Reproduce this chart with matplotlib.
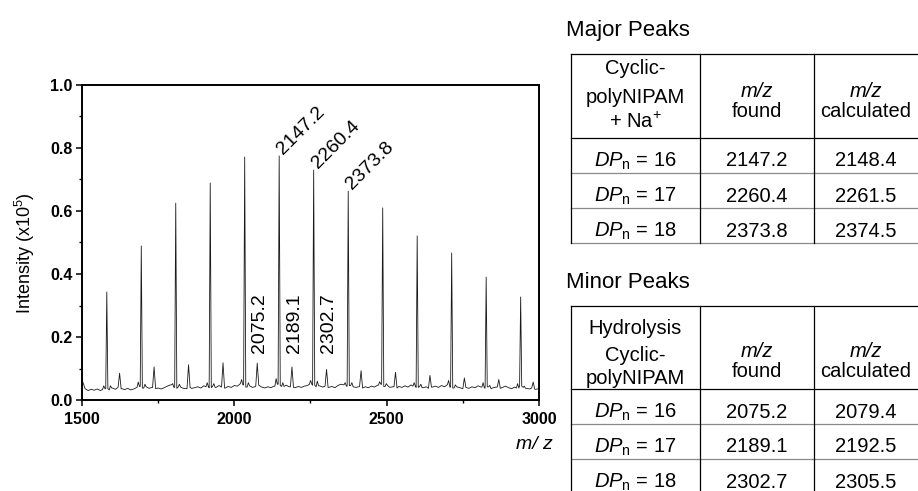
import matplotlib
matplotlib.use("Agg")
import matplotlib.pyplot as plt
import numpy as np

plt.rcParams["font.family"] = ["Liberation Sans", "DejaVu Sans"]
plt.rcParams["mathtext.fontset"] = "custom"
plt.rcParams["mathtext.rm"] = "Liberation Sans"
plt.rcParams["mathtext.it"] = "Liberation Sans:italic"
plt.rcParams["mathtext.bf"] = "Liberation Sans:bold"

# ---- spectrum, values ----
major_mz = [1581.4, 1694.6, 1807.7, 1920.9, 2034.0, 2147.2, 2260.4,
            2373.8, 2487.0, 2600.2, 2713.4, 2826.6, 2939.8]
major_int = [0.343, 0.489, 0.625, 0.689, 0.771, 0.775, 0.730,
             0.663, 0.610, 0.521, 0.467, 0.390, 0.327]
minor_mz = [1623.4, 1736.6, 1849.7, 1962.9, 2075.2, 2189.1, 2302.7,
            2416.0, 2529.0, 2642.0, 2755.0, 2868.0, 2981.0]
minor_int = [0.085, 0.105, 0.112, 0.118, 0.117, 0.105, 0.097,
             0.093, 0.088, 0.078, 0.070, 0.065, 0.057]
# small shoulders just below / above each major peak
pre_int = [0.045, 0.057, 0.052, 0.055, 0.065, 0.068, 0.062,
           0.055, 0.058, 0.055, 0.062, 0.055, 0.052]
post_int = [0.045, 0.050, 0.050, 0.052, 0.055, 0.055, 0.060,
            0.055, 0.052, 0.050, 0.048, 0.046, 0.044]

base_mz = np.arange(1500, 3001, 10)
base_int = [
    0.065, 0.036, 0.030, 0.034, 0.031, 0.035, 0.030, 0.033, 0.036, 0.032,
    0.038, 0.034, 0.040, 0.036, 0.033, 0.037, 0.032, 0.035, 0.040, 0.043,
    0.038, 0.042, 0.037, 0.040, 0.036, 0.038, 0.035, 0.039, 0.044, 0.048,
    0.040, 0.037, 0.041, 0.038, 0.036, 0.040, 0.037, 0.039, 0.042, 0.038,
    0.045, 0.042, 0.039, 0.044, 0.040, 0.046, 0.041, 0.038, 0.043, 0.040,
    0.046, 0.044, 0.052, 0.048, 0.041, 0.045, 0.040, 0.043, 0.047, 0.041,
    0.038, 0.042, 0.039, 0.044, 0.050, 0.046, 0.043, 0.047, 0.042, 0.040,
    0.039, 0.043, 0.040, 0.044, 0.046, 0.050, 0.047, 0.042, 0.045, 0.041,
    0.044, 0.040, 0.043, 0.039, 0.046, 0.050, 0.048, 0.044, 0.046, 0.042,
    0.040, 0.043, 0.038, 0.042, 0.039, 0.044, 0.041, 0.047, 0.050, 0.043,
    0.046, 0.040, 0.042, 0.038, 0.043, 0.040, 0.045, 0.041, 0.048, 0.044,
    0.040, 0.043, 0.039, 0.042, 0.037, 0.041, 0.044, 0.040, 0.046, 0.042,
    0.049, 0.041, 0.038, 0.042, 0.039, 0.036, 0.040, 0.037, 0.042, 0.039,
    0.045, 0.041, 0.038, 0.042, 0.036, 0.039, 0.041, 0.037, 0.040, 0.044,
    0.039, 0.036, 0.041, 0.038, 0.044, 0.040, 0.037, 0.035, 0.038, 0.034,
    0.036,
]

# ---- tables ----
dp_values = [16, 17, 18]
major_found = ["2147.2", "2260.4", "2373.8"]
major_calc = ["2148.4", "2261.5", "2374.5"]
minor_found = ["2075.2", "2189.1", "2302.7"]
minor_calc = ["2079.4", "2192.5", "2305.5"]
major_head = ["Cyclic-", "polyNIPAM", "+ Na$^{+}$"]
minor_head = ["Hydrolysis", "Cyclic-", "polyNIPAM"]


def build_trace():
    bx = np.asarray(base_mz, float)
    by = np.asarray(base_int, float)
    peaks = [(m, h, 3.5) for m, h in zip(major_mz, major_int)]
    peaks += [(m, h, 5.0) for m, h in zip(minor_mz, minor_int)]
    peaks += [(m - 10, h, 4.0) for m, h in zip(major_mz, pre_int)]
    peaks += [(m + 12, h, 4.0) for m, h in zip(major_mz, post_int)]
    keep = np.ones(len(bx), bool)
    pts = []
    for m, h, w in peaks:
        keep &= np.abs(bx - m) > w
        for xf in (m - w, m + w):
            pts.append((xf, by[np.abs(bx - xf).argmin()]))
        pts.append((m, h))
    pts += list(zip(bx[keep], by[keep]))
    pts.sort()
    return np.array(pts).T


W, H = 918, 491
fig = plt.figure(figsize=(W / 100, H / 100), dpi=100)
ax = fig.add_axes([82 / W, 91 / H, 457 / W, 315 / H])

x, y = build_trace()
ax.plot(x, y, color="#1a1a1a", lw=0.6)
ax.set_xlim(1500, 3000)
ax.set_ylim(0, 1.0)
ax.set_xticks([1500, 2000, 2500, 3000])
ax.set_xticks([1750, 2250, 2750], minor=True)
ax.set_yticks([0.0, 0.2, 0.4, 0.6, 0.8, 1.0])
ax.set_yticks(np.arange(0.1, 1.0, 0.2), minor=True)
ax.set_yticklabels(["0.0", "0.2", "0.4", "0.6", "0.8", "1.0"])
for s in ax.spines.values():
    s.set_linewidth(1.4)
ax.tick_params(which="major", direction="out", length=4, width=1.1)
ax.tick_params(which="minor", direction="out", length=2.5, width=1.0)
ax.tick_params(axis="x", pad=5)
ax.tick_params(axis="y", pad=3)
for lab in ax.get_xticklabels() + ax.get_yticklabels():
    lab.set_fontweight("bold")
    lab.set_fontsize(11.5)

# peak labels
for s in major_found:
    m = float(s)
    h = major_int[int(np.argmin(np.abs(np.array(major_mz) - m)))]
    ax.annotate(s, (m, h), xytext=(3, 0.5), textcoords="offset points",
                rotation=45, rotation_mode="anchor", ha="left",
                va="baseline", fontsize=14)
for s in minor_found:
    ax.text(float(s) + 8, 0.15, s, rotation=90, ha="center", va="bottom",
            fontsize=14)

fig.text(553 / W, 1 - 449 / H, "m/ z", style="italic", ha="right",
         va="baseline", fontsize=14)
fig.text(25 / W, 1 - 253 / H, "Intensity (x10$^{5}$)", rotation=90,
         ha="center", va="center", fontsize=13)

# ---- tables drawn in pixel coordinates ----
tab = fig.add_axes([0, 0, 1, 1])
tab.set_xlim(0, W)
tab.set_ylim(H, 0)
tab.axis("off")

col_x = [571, 700, 814]
col_c = [635.5, 757, 866]


def draw_table(title, title_y, top, head_bot, head, head_base, mz_base,
               found, calc, close_bottom):
    tab.text(566, title_y, title, fontsize=16, ha="left", va="baseline")
    row_h = 35
    bottom = head_bot + 3 * row_h
    tab.plot([col_x[0], W + 5], [top, top], color="black", lw=0.9)
    tab.plot([col_x[0], W + 5], [head_bot, head_bot], color="black", lw=0.9)
    for i in (1, 2):
        yy = head_bot + i * row_h
        tab.plot([col_x[0], W + 5], [yy, yy], color="#8a8a8a", lw=0.9)
    if close_bottom:
        tab.plot([col_x[0], W + 5], [bottom, bottom], color="#8a8a8a", lw=0.9)
    for cx in col_x:
        tab.plot([cx, cx], [top, bottom], color="black", lw=0.9)
    for line, yb in zip(head, head_base):
        tab.text(col_c[0], yb, line, fontsize=14.5, ha="center", va="baseline")
    for c, word in ((col_c[1], "found"), (col_c[2], "calculated")):
        tab.text(c, mz_base[0], "m/z", style="italic", fontsize=14.5,
                 ha="center", va="baseline")
        tab.text(c, mz_base[1], word, fontsize=14.5, ha="center",
                 va="baseline")
    for i, (dp, f, cv) in enumerate(zip(dp_values, found, calc)):
        yb = head_bot + i * row_h + 28.5
        tab.text(col_c[0], yb, r"$\mathit{DP}_{\mathrm{n}}$ = %d" % dp,
                 fontsize=14.5, ha="center", va="baseline")
        tab.text(col_c[1], yb, f, fontsize=14.5, ha="center", va="baseline")
        tab.text(col_c[2], yb, cv, fontsize=14.5, ha="center", va="baseline")


draw_table("Major Peaks", 36, 54, 138, major_head, [74, 102.7, 127.7],
           [96.7, 116.7], major_found, major_calc, True)
draw_table("Minor Peaks", 288.3, 306, 389, minor_head, [334, 360.7, 384],
           [356.7, 376.7], minor_found, minor_calc, False)

fig.savefig("out.png", dpi=100)
